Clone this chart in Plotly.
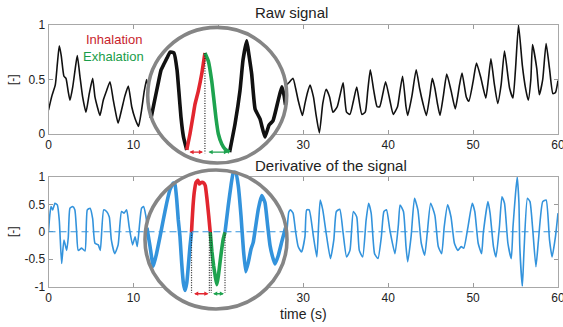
import plotly.graph_objects as go

# ---------------- data ----------------
raw_time = [0.0, 0.4, 0.8, 1.05, 1.27, 1.5, 1.82, 2.06, 2.3, 2.53, 2.85, 3.15, 3.39, 3.7, 4.02, 4.41,
            4.8, 5.2, 5.47, 5.75, 6.06, 6.45, 6.85, 7.24, 7.63, 7.9, 8.2, 8.6, 9.0, 9.4, 9.8, 10.2,
            10.6, 10.96, 11.25, 11.55, 11.8, None,
            27.6, 27.8, 28.3, 28.8, 29.1, 29.4, 29.9, 30.2, 30.5, 30.8, 31.2, 31.5, 31.9, 32.3, 32.7,
            33.1, 33.5, 34.0, 34.4, 34.7, 35.1, 35.5, 35.9, 36.3, 36.9, 37.3, 37.6, 37.9, 38.3, 38.7,
            39.0, 39.4, 39.7, 40.2, 40.6, 41.1, 41.4, 41.7, 42.1, 42.3, 42.8, 43.3, 43.7, 44.1, 44.5,
            44.9, 45.2, 45.5, 45.8, 46.1, 46.5, 46.9, 47.4, 47.9, 48.2, 48.4, 48.7, 49.2, 49.5, 50.0,
            50.4, 50.9, 51.5, 51.8, 52.1, 52.5, 52.9, 53.3, 53.7, 54.3, 54.7, 55.0, 55.35, 55.8, 56.2,
            56.5, 56.8, 57.0, 57.5, 57.8, 58.2, 58.6, 59.0, 59.4, 59.7, 60.0]
raw_value = [0.22, 0.35, 0.45, 0.65, 0.81, 0.72, 0.53, 0.51, 0.40, 0.31, 0.43, 0.60, 0.72, 0.53, 0.34, 0.20,
             0.37, 0.51, 0.34, 0.25, 0.17, 0.31, 0.40, 0.48, 0.31, 0.20, 0.10, 0.22, 0.35, 0.44, 0.25, 0.14,
             0.07, 0.22, 0.38, 0.50, 0.40, None,
             0.35, 0.43, 0.47, 0.51, 0.42, 0.31, 0.17, 0.28, 0.38, 0.45, 0.34, 0.18, 0.01, 0.28, 0.41,
             0.34, 0.20, 0.25, 0.38, 0.47, 0.20, 0.18, 0.30, 0.43, 0.18, 0.20, 0.40, 0.59, 0.40, 0.25,
             0.25, 0.38, 0.48, 0.31, 0.18, 0.25, 0.40, 0.53, 0.25, 0.17, 0.35, 0.59, 0.42, 0.28, 0.17,
             0.35, 0.51, 0.42, 0.28, 0.17, 0.35, 0.55, 0.40, 0.23, 0.35, 0.45, 0.56, 0.34, 0.30, 0.48,
             0.65, 0.52, 0.33, 0.50, 0.69, 0.46, 0.28, 0.45, 0.76, 0.42, 0.33, 0.60, 1.00, 0.63, 0.41,
             0.31, 0.50, 0.82, 0.60, 0.36, 0.50, 0.83, 0.60, 0.37, 0.38, 0.49]

deriv_time = [0.0, 0.15, 0.3, 0.5, 0.76, 1.04, 1.27, 1.55, 1.82, 2.14, 2.33, 2.53, 2.84, 3.1, 3.3, 3.5,
              3.9, 4.3, 4.57, 4.9, 5.2, 5.47, 5.86, 6.1, 6.5, 6.84, 7.16, 7.4, 7.8, 8.2, 8.6, 8.9, 9.2,
              9.5, 9.9, 10.2, 10.45, 10.96, 11.2, 11.45, 11.7, None,
              27.9, 28.1, 28.3, 28.5, 28.8, 29.1, 29.4, 29.8, 30.2, 30.4, 30.7, 31.2, 31.6, 31.8, 32.0,
              32.3, 32.7, 33.2, 33.6, 33.9, 34.3, 34.7, 35.1, 35.5, 35.9, 36.3, 36.6, 37.0, 37.4, 37.7,
              38.0, 38.4, 38.8, 39.2, 39.5, 39.8, 40.2, 40.8, 41.2, 41.4, 41.8, 42.1, 42.3, 42.7, 43.1,
              43.5, 43.9, 44.3, 44.6, 45.0, 45.5, 45.9, 46.3, 46.6, 47.0, 47.4, 47.8, 48.2, 48.6, 48.9,
              49.4, 49.9, 50.2, 50.6, 51.0, 51.2, 51.75, 52.0, 52.4, 52.7, 53.1, 53.4, 53.7, 54.1, 54.5,
              54.7, 55.0, 55.2, 55.4, 55.5, 55.8, 56.0, 56.4, 56.7, 57.0, 57.4, 57.7, 58.2, 58.6, 59.0,
              59.3, 59.7, 60.0]
deriv_value = [0.0, 0.30, 0.46, 0.40, 0.52, 0.49, 0.21, -0.58, -0.15, -0.34, -0.10, 0.43, 0.46, 0.40, 0.03, -0.34,
               -0.30, -0.35, 0.40, 0.43, 0.24, -0.21, -0.24, -0.34, 0.40, 0.37, 0.27, -0.15, -0.40, -0.24, 0.37, 0.34, 0.40,
               0.09, -0.24, -0.09, -0.27, 0.43, 0.46, 0.30, 0.02, None,
               -0.25, 0.05, 0.36, 0.40, 0.34, 0.0, -0.27, -0.37, -0.09, 0.40, 0.40, -0.09, -0.46, 0.10, 0.58,
               0.40, -0.03, -0.49, -0.15, 0.37, 0.41, -0.03, -0.46, -0.34, 0.37, 0.27, -0.34, -0.46, 0.21, 0.52,
               0.34, -0.40, -0.49, -0.09, 0.37, 0.40, 0.03, -0.40, 0.12, 0.49, 0.37, -0.27, -0.55, -0.09, 0.61,
               0.40, -0.21, -0.43, -0.03, 0.52, 0.30, -0.27, -0.40, 0.09, 0.49, 0.27, -0.21, -0.34, -0.27, -0.30,
               0.09, 0.52, 0.37, -0.21, -0.40, -0.03, 0.55, 0.34, -0.27, -0.46, 0.09, 0.64, 0.52, -0.21, -0.49,
               0.09, 0.70, 1.00, 0.52, -0.27, -1.00, -0.34, 0.61, 0.55, 0.09, -0.64, -0.15, 0.55, 0.58, -0.15,
               -0.46, -0.09, 0.34]

# magnified view of the raw signal (zoomed time, value)
zr_pre_t = [16.12, 16.29, 16.53, 16.71, 16.88, 17.06, 17.24, 17.47, 17.65, 17.76, 17.88, 18.03, 18.22]
zr_pre_v = [0.206, 0.271, 0.362, 0.427, 0.454, 0.482, 0.509, 0.505, 0.427, 0.326, 0.211, 0.119, 0.060]
zr_inh_t = [18.22, 18.41, 18.61, 18.71, 18.90, 19.10, 19.29]
zr_inh_v = [0.060, 0.133, 0.225, 0.271, 0.330, 0.408, 0.505]
zr_exh_t = [19.29, 19.49, 19.69, 19.82, 19.94, 20.08, 20.28, 20.47, 20.74]
zr_exh_v = [0.505, 0.468, 0.376, 0.289, 0.206, 0.133, 0.087, 0.064, 0.050]
zr_post_t = [20.74, 21.06, 21.35, 21.53, 21.75, 21.88, 22.04, 22.24, 22.53, 22.82, 23.06, 23.29, 23.59, 23.81, 23.94, 24.03]
zr_post_v = [0.050, 0.179, 0.330, 0.472, 0.560, 0.495, 0.408, 0.248, 0.202, 0.119, 0.174, 0.193, 0.284, 0.349, 0.312, 0.266]
zr_peak_t = 19.29
zr_peak_range = [0.505, 0.045]
zr_inh_span = [18.29, 19.18]
zr_exh_span = [19.41, 20.65]
zr_span_level = 0.050

# magnified view of the derivative
zd_pre_t = [15.94, 16.12, 16.31, 16.51, 16.71, 16.90, 17.10, 17.29, 17.49, 17.59, 17.69, 17.78, 17.88, 17.98,
            18.08, 18.18, 18.28, 18.37, 18.47, 18.56]
zd_pre_v = [0.041, -0.130, -0.313, -0.190, -0.038, 0.114, 0.267, 0.388, 0.450, 0.434, 0.297, 0.114, -0.038, -0.279,
            -0.464, -0.532, -0.464, -0.313, -0.130, 0.0]
zd_inh_t = [18.56, 18.59, 18.65, 18.72, 18.82, 18.94, 19.02, 19.14, 19.28, 19.37, 19.47, 19.57, 19.66]
zd_inh_v = [0.0, 0.090, 0.242, 0.364, 0.455, 0.475, 0.441, 0.455, 0.450, 0.425, 0.303, 0.151, 0.0]
zd_exh_t = [19.66, 19.76, 19.86, 19.96, 20.05, 20.14, 20.24, 20.34, 20.43, 20.53]
zd_exh_v = [0.0, -0.178, -0.306, -0.407, -0.480, -0.398, -0.270, -0.151, -0.059, 0.0]
zd_post_t = [20.53, 20.72, 20.88, 21.02, 21.16, 21.31, 21.47, 21.61, 21.75, 21.90, 22.06, 22.19, 22.34, 22.49,
             22.69, 22.88, 23.04, 23.18, 23.31, 23.47, 23.66, 23.86, 24.02, 24.09]
zd_post_v = [0.0, 0.242, 0.425, 0.547, 0.547, 0.425, 0.151, -0.154, -0.361, -0.276, -0.154, -0.093, 0.059, 0.212,
             0.334, 0.272, 0.059, -0.123, -0.215, -0.291, -0.215, -0.093, 0.0, 0.041]
zd_marks_t = [18.56, 19.61, 19.72, 20.53]
zd_marks_bottom = -0.553
zd_inh_span = [18.62, 19.56]
zd_exh_span = [19.74, 20.47]
zd_span_level = -0.562

x_ticks = [0, 10, 20, 30, 40, 50, 60]
raw_ticks = [0, 0.5, 1]
raw_ticktext = ["0", "0.5", "1"]
deriv_ticks = [-1, -0.5, 0, 0.5, 1]
deriv_ticktext = ["-1", "-0.5", "0", "0.5", "1"]

# ---------------- layout geometry ----------------
W, H = 563, 327
ML, MR, MT, MB = 48, 5, 5, 5
PW, PH = W - ML - MR, H - MT - MB

def fx(px):
    return (px - ML) / PW

def fy(py):
    return (H - MB - py) / PH

BLACK = "#111111"
BLUE = "#3393dc"
RED = "#e2262f"
GREEN = "#1ea34f"
GRAY = "#858585"
FONT = "Liberation Sans, Arial, Helvetica, sans-serif"

fig = go.Figure()

# main traces
fig.add_trace(go.Scatter(x=raw_time, y=raw_value, mode="lines",
                         line=dict(color=BLACK, width=1.6, shape="spline", smoothing=0.5),
                         xaxis="x", yaxis="y", showlegend=False, hoverinfo="skip"))
fig.add_trace(go.Scatter(x=deriv_time, y=deriv_value, mode="lines",
                         line=dict(color=BLUE, width=1.6, shape="spline", smoothing=0.5),
                         xaxis="x2", yaxis="y2", showlegend=False, hoverinfo="skip"))

# inset (magnifier) geometry: centre px, radii px, px per unit, anchor mapping
top_c = (217.2, 95.2); top_r = (69.5, 67.8); top_s = (17.0, 218.0)
top_map = lambda px, py: (20 + (px - 217) / top_s[0], (163 - py) / top_s[1])
bot_c = (216.0, 239.5); bot_r = (71.0, 69.5); bot_s = (17.0, 109.4)
bot_map = lambda px, py: (20 + (px - 216) / bot_s[0], (232.2 - py) / bot_s[1])
PAD = 6

def inset_axes(c, r, s, mp):
    cx, cy = c
    rx, ry = r
    tx, vy = mp(cx, cy)
    xr = [tx - (rx + PAD) / s[0], tx + (rx + PAD) / s[0]]
    yr = [vy - (ry + PAD) / s[1], vy + (ry + PAD) / s[1]]
    xd = [fx(cx - rx - PAD), fx(cx + rx + PAD)]
    yd = [fy(cy + ry + PAD), fy(cy - ry - PAD)]
    circ = dict(x0=tx - rx / s[0], x1=tx + rx / s[0], y0=vy - ry / s[1], y1=vy + ry / s[1])
    return xr, yr, xd, yd, circ

t_xr, t_yr, t_xd, t_yd, t_circ = inset_axes(top_c, top_r, top_s, top_map)
b_xr, b_yr, b_xd, b_yd, b_circ = inset_axes(bot_c, bot_r, bot_s, bot_map)

LW = 3.6
# top inset traces
for tx_, vy_, col in [(zr_pre_t, zr_pre_v, BLACK), (zr_post_t, zr_post_v, BLACK),
                      (zr_inh_t, zr_inh_v, RED), (zr_exh_t, zr_exh_v, GREEN)]:
    fig.add_trace(go.Scatter(x=tx_, y=vy_, mode="lines",
                             line=dict(color=col, width=LW, shape="spline", smoothing=0.4),
                             xaxis="x3", yaxis="y3", showlegend=False, hoverinfo="skip"))
fig.add_trace(go.Scatter(x=[zr_peak_t, zr_peak_t], y=zr_peak_range, mode="lines",
                         line=dict(color="#222", width=1.2, dash="1px,1.5px"),
                         xaxis="x3", yaxis="y3", showlegend=False, hoverinfo="skip"))
# bottom inset traces
for tx_, vy_, col in [(zd_pre_t, zd_pre_v, BLUE), (zd_post_t, zd_post_v, BLUE),
                      (zd_inh_t, zd_inh_v, RED), (zd_exh_t, zd_exh_v, GREEN)]:
    fig.add_trace(go.Scatter(x=tx_, y=vy_, mode="lines",
                             line=dict(color=col, width=LW, shape="spline", smoothing=0.4),
                             xaxis="x4", yaxis="y4", showlegend=False, hoverinfo="skip"))
for mt in zd_marks_t:
    fig.add_trace(go.Scatter(x=[mt, mt], y=[0, zd_marks_bottom], mode="lines",
                             line=dict(color="#222", width=1.2, dash="1px,1.5px"),
                             xaxis="x4", yaxis="y4", showlegend=False, hoverinfo="skip"))

axis_common = dict(showgrid=False, zeroline=False, ticks="inside", ticklen=4, tickcolor="#9a9a9a",
                   showline=True, linecolor="#a8a8a8", linewidth=1, mirror="ticks",
                   automargin=False, ticklabeloverflow="allow",
                   tickfont=dict(family=FONT, size=12, color="#222"))

hidden = dict(visible=False, showgrid=False, zeroline=False, fixedrange=True, automargin=False)

fig.update_layout(
    template="none",
    width=W, height=H,
    margin=dict(l=ML, r=MR, t=MT, b=MB, autoexpand=False),
    paper_bgcolor="white", plot_bgcolor="rgba(0,0,0,0)",
    font=dict(family=FONT, size=12, color="#222"),
    showlegend=False,
    xaxis=dict(domain=[fx(48.5), 1], range=[0, 60], tickvals=x_ticks, anchor="y", **axis_common),
    yaxis=dict(domain=[fy(134), fy(25)], range=[0, 1], tickvals=raw_ticks, ticktext=raw_ticktext,
               anchor="x", **axis_common),
    xaxis2=dict(domain=[fx(48.5), 1], range=[0, 60], tickvals=x_ticks, anchor="y2", **axis_common),
    yaxis2=dict(domain=[fy(286.5), fy(177)], range=[-1, 1], tickvals=deriv_ticks, ticktext=deriv_ticktext,
                anchor="x2", **axis_common),
    xaxis3=dict(domain=t_xd, range=t_xr, anchor="y3", **hidden),
    yaxis3=dict(domain=t_yd, range=t_yr, anchor="x3", **hidden),
    xaxis4=dict(domain=b_xd, range=b_xr, anchor="y4", **hidden),
    yaxis4=dict(domain=b_yd, range=b_yr, anchor="x4", **hidden),
)

shapes = [
    # white lens fills (drawn under the inset traces, above the main plots)
    dict(type="circle", xref="x3", yref="y3", layer="below", fillcolor="white",
         line=dict(width=0), **t_circ),
    dict(type="circle", xref="x4", yref="y4", layer="below", fillcolor="white",
         line=dict(width=0), **b_circ),
    # dashed zero line of the derivative
    dict(type="line", xref="x2", yref="y2", x0=0, x1=60, y0=0, y1=0, layer="above",
         line=dict(color=BLUE, width=1, dash="7px,4px")),
    # lens rims
    dict(type="circle", xref="x3", yref="y3", layer="above", fillcolor="rgba(0,0,0,0)",
         line=dict(color=GRAY, width=3.6), **t_circ),
    dict(type="circle", xref="x4", yref="y4", layer="above", fillcolor="rgba(0,0,0,0)",
         line=dict(color=GRAY, width=3.6), **b_circ),
]
fig.update_layout(shapes=shapes)

ann = []
def txt(text, px, py, size, color="#222", angle=0):
    ann.append(dict(text=text, x=fx(px), y=fy(py), xref="paper", yref="paper", showarrow=False,
                    xanchor="center", yanchor="middle", textangle=angle,
                    font=dict(family=FONT, size=size, color=color)))

txt("Raw signal", 291, 13, 15)
txt("Derivative of the signal", 331, 166, 15)
txt("time (s)", 303, 314, 14)
txt("[-]", 13, 80, 12, angle=-90)
txt("[-]", 13, 232, 12, angle=-90)
txt("Inhalation", 114, 39, 13, color="#c81e2c")
txt("Exhalation", 113.5, 56, 13, color="#1a9d4a")

def arrow(xa, ya, span, level, color):
    ann.append(dict(x=span[1], y=level, ax=span[0], ay=level, xref=xa, yref=ya, axref=xa, ayref=ya,
                    text="", showarrow=True, arrowhead=2, startarrowhead=2, arrowside="end+start",
                    arrowsize=0.6, startarrowsize=0.6, arrowwidth=1.4, arrowcolor=color))

arrow("x3", "y3", zr_inh_span, zr_span_level, RED)
arrow("x3", "y3", zr_exh_span, zr_span_level, GREEN)
arrow("x4", "y4", zd_inh_span, zd_span_level, RED)
arrow("x4", "y4", zd_exh_span, zd_span_level, GREEN)

fig.update_layout(annotations=ann)

fig.write_html("out.html", config={"displayModeBar": False},
               post_script="document.body.style.margin='0';document.body.style.padding='0';")
